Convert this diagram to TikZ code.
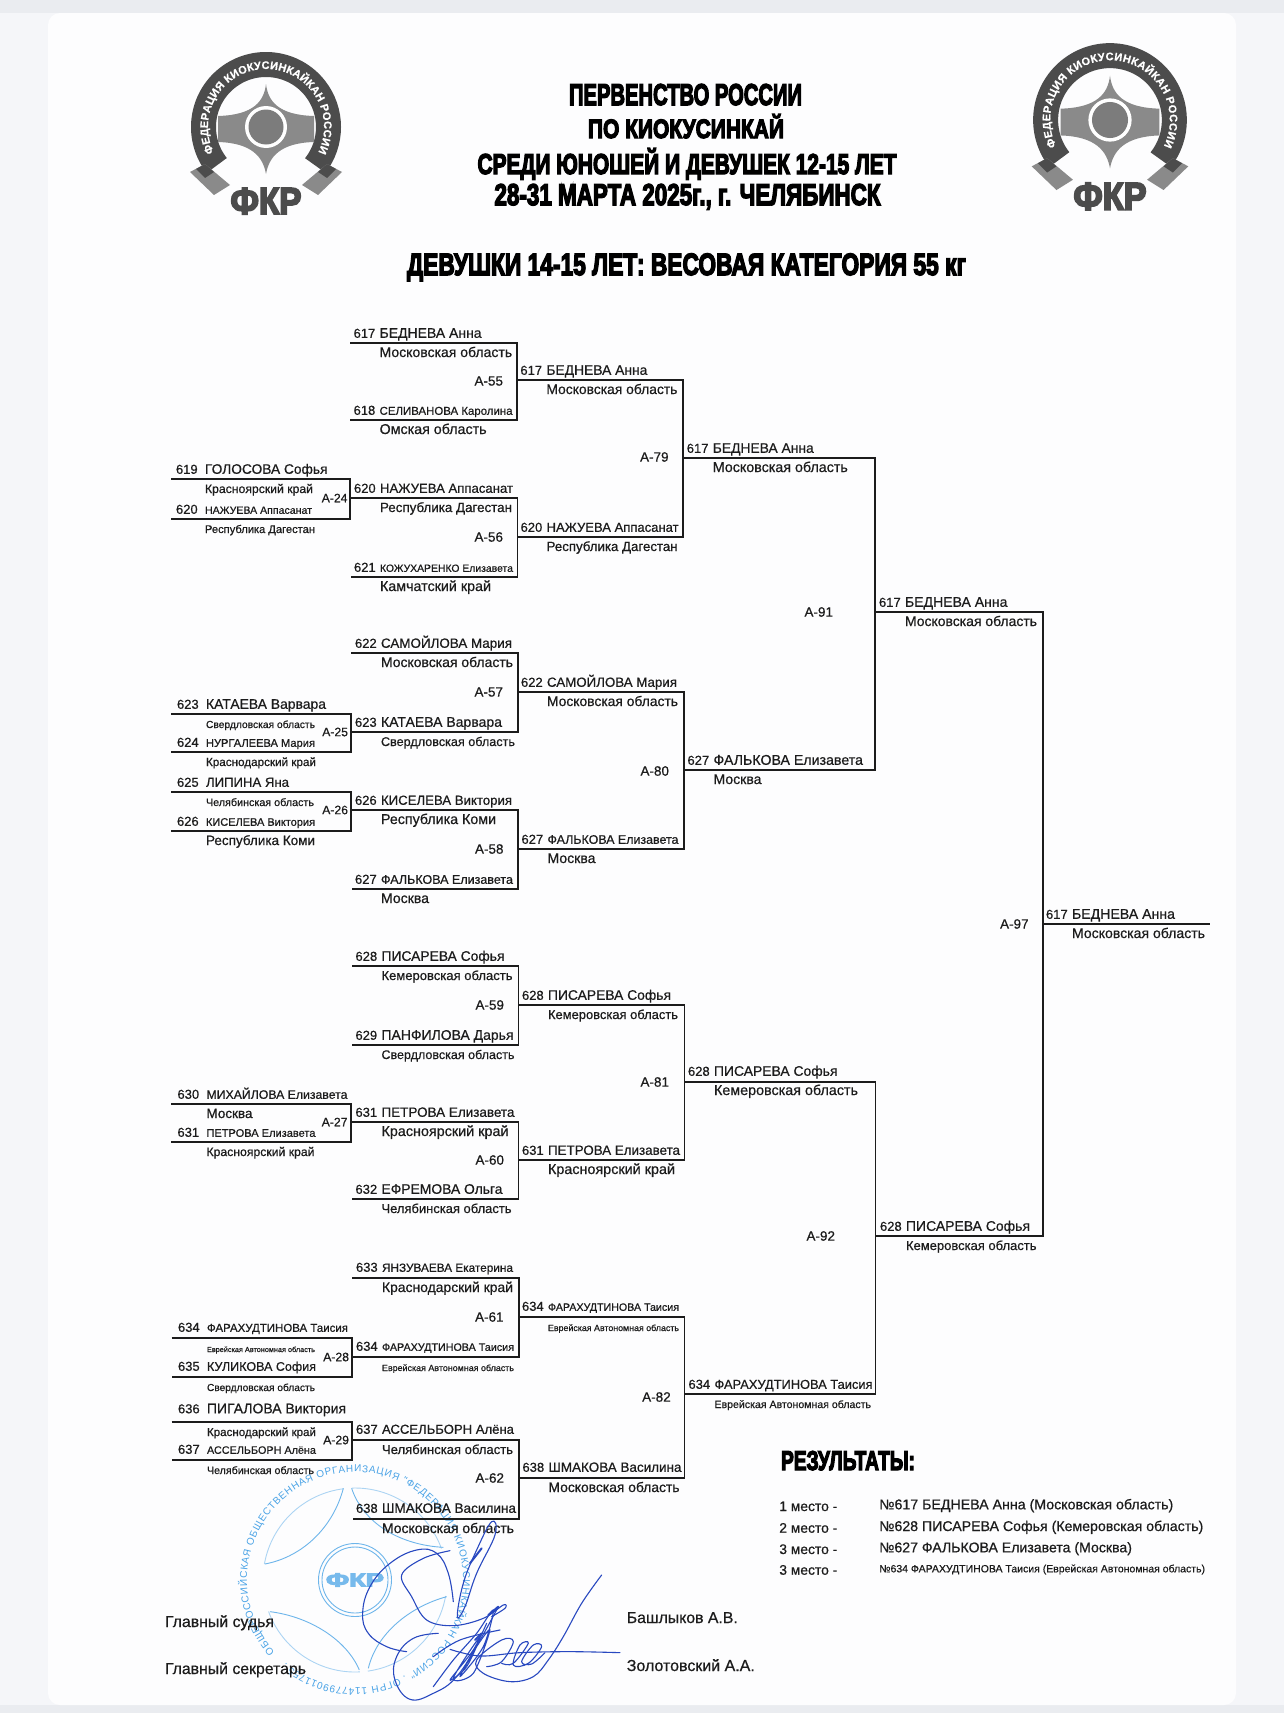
\documentclass[tikz,border=0pt]{standalone}
\usepackage{fontspec}
\usepackage{graphicx}
\setmainfont[FakeBold=0.6]{Liberation Sans}
\newfontfamily\heavyfont[FakeBold=5]{Liberation Sans}
\newfontfamily\thinfont{Liberation Sans}
\usetikzlibrary{decorations.text}
\definecolor{ink}{HTML}{1C1C1C}
\definecolor{pagebg}{HTML}{F5F6F9}
\definecolor{stripbg}{HTML}{EAECF0}
\definecolor{sheet}{HTML}{FDFDFE}
\definecolor{stampblue}{HTML}{4AA3E6}
\definecolor{signblue}{HTML}{2848C0}
\definecolor{logodark}{HTML}{4C4C4C}
\definecolor{logomid}{HTML}{8A8A8A}
\tikzset{
  bline/.style={draw=ink, line width=1.6pt, line join=miter},
  numlab/.style={anchor=base west, inner sep=0pt, outer sep=0pt, text=ink, font=\fontsize{13}{15}\selectfont},
  txtlab/.style={anchor=base west, inner sep=0pt, outer sep=0pt, text=ink, font=\fontsize{14}{16}\selectfont},
  mlabel/.style={anchor=east, inner sep=0pt, outer sep=0pt, text=ink, font=\fontsize{13.5}{15}\selectfont},
  mlabelsm/.style={mlabel, font=\fontsize{12.2}{15}\selectfont},
  headlab/.style={anchor=base, inner sep=0pt, outer sep=0pt, text=black, font=\heavyfont\bfseries\fontsize{20}{24}\selectfont},
  stampline/.style={draw=stampblue, line width=0.9pt, opacity=0.8},
  signline/.style={draw=signblue, line width=1.1pt, line cap=round, line join=round},
  fkrlogo/.pic={
    \draw[logodark, line width=25pt] (218:62.5pt) arc[start angle=218, delta angle=-256, radius=62.5pt];
    \fill[logomid] (-76,45) -- (-61,37) -- (-36,58) -- (-52,68) -- cycle;
    \fill[logomid] (76,45) -- (61,37) -- (36,58) -- (52,68) -- cycle;
    \fill[logodark] (-70,42) -- (-61,37) -- (-52,45) -- (-61,51) -- cycle;
    \fill[logodark] (70,42) -- (61,37) -- (52,45) -- (61,51) -- cycle;
    \fill[logomid] (0,-43) .. controls (2,-26) and (12,-12) .. (48,-11)
      -- (48,15) .. controls (14,16) and (3,30) .. (0,47)
      .. controls (-3,30) and (-14,16) .. (-48,15)
      -- (-48,-11) .. controls (-12,-12) and (-2,-26) .. (0,-43) -- cycle;
    \fill[white] (0,0) circle[radius=21pt];
    \fill[logomid!90!black] (0,0) circle[radius=17.5pt];
    \path[decorate, decoration={text along path, text color=white, text align=fit to path,
      text={|\bfseries\fontsize{11}{12}\selectfont|ФЕДЕРАЦИЯ КИОКУСИНКАЙКАН РОССИИ}}]
      (206:58pt) arc[start angle=206, delta angle=-232, radius=58pt];
    \node[anchor=base, inner sep=0pt, text=logodark, font=\heavyfont\bfseries\fontsize{20}{24}\selectfont, transform shape] (-fkr) at (0,87) {\resizebox{71pt}{26pt}{ФКР}};
  }
}
\newcommand{\entrant}[8]{%
  \node[numlab] (n#1) at (#2-\numgap,#3-\nameup) {#4};
  \node[txtlab] (t#1) at (#2,#3-\nameup) {\resizebox{#5pt}{!}{#6}};
  \node[txtlab] (r#1) at (#2,#3+14) {\resizebox{#7pt}{!}{#8}};}
\begin{document}
\begin{tikzpicture}[x=1pt, y=-1pt]
\useasboundingbox (0,0) rectangle (1284,1713);
\fill[pagebg] (0,0) rectangle (1284,1713);
\fill[stripbg] (0,0) rectangle (1284,13);
\fill[stripbg] (0,1705) rectangle (1284,1713);
\fill[sheet, rounded corners=12pt] (48,13) rectangle (1236,1705);

% logos and headings
\pic (logoL) at (266,127) {fkrlogo};
\pic[scale=1.03] (logoR) at (1110,120) {fkrlogo};
\node[headlab] (head1) at (685.5,105) {\resizebox{233pt}{21pt}{ПЕРВЕНСТВО РОССИИ}};
\node[headlab] (head2) at (686,138) {\resizebox{196pt}{24pt}{ПО КИОКУСИНКАЙ}};
\node[headlab] (head3) at (687,174) {\resizebox{419pt}{26pt}{СРЕДИ ЮНОШЕЙ И ДЕВУШЕК 12-15 ЛЕТ}};
\node[headlab] (head4) at (687.5,205) {\resizebox{386pt}{21pt}{28-31 МАРТА 2025г., г. ЧЕЛЯБИНСК}};
\node[headlab] (head5) at (686.5,275) {\resizebox{559pt}{21.5pt}{ДЕВУШКИ 14-15 ЛЕТ: ВЕСОВАЯ КАТЕГОРИЯ 55 кг}};

% stamp
\coordinate (sc) at (355,1580);
\draw[stampline] (sc) circle[radius=36.5pt];
\draw[stampline] (sc) circle[radius=33pt];
\node[inner sep=0pt, text=stampblue!75, font=\heavyfont\bfseries\fontsize{13}{15}\selectfont] (stampfkr) at (sc) {\resizebox{58pt}{13pt}{ФКР}};
\begin{scope}[shift={(220,1460)}, x=0.3333pt, y=-0.3333pt]
\draw[stampline] (370,85) .. controls (340,200) and (250,290) .. (135,312);
\draw[stampline] (395,85) .. controls (430,190) and (540,255) .. (670,262);
\draw[stampline] (150,455) .. controls (270,470) and (380,540) .. (418,630);
\draw[stampline] (445,625) .. controls (470,520) and (570,440) .. (680,410);
\end{scope}
\draw[stampline, draw opacity=0.45] ([shift={(170:92pt)}]sc) arc[start angle=170, end angle=97, radius=92pt];
\draw[stampline, draw opacity=0.45] ([shift={(92:92pt)}]sc) arc[start angle=92, end angle=20, radius=92pt];
\draw[stampline, draw opacity=0.45] ([shift={(-10:92pt)}]sc) arc[start angle=-10, end angle=-82, radius=92pt];
\draw[stampline, draw opacity=0.45] ([shift={(-87:92pt)}]sc) arc[start angle=-87, end angle=-160, radius=92pt];
\path[decorate, opacity=0.85, decoration={text along path, text color=stampblue, text align=fit to path,
  text={|\thinfont\fontsize{10}{10}\selectfont|ОБЩЕРОССИЙСКАЯ ОБЩЕСТВЕННАЯ ОРГАНИЗАЦИЯ "ФЕДЕРАЦИЯ КИОКУСИНКАЙКАН РОССИИ" . ОГРН 1147799011755 .}}]
  ([shift={(222:108pt)}]sc) arc[start angle=222, delta angle=-352, radius=108pt];

% first round
\coordinate (e619) at (171,479);
\coordinate (e620) at (171,519);
\coordinate (m24) at (350,498);
\coordinate (e623) at (171,714);
\coordinate (e624) at (171,752);
\coordinate (m25) at (351,732);
\coordinate (e625) at (171,792);
\coordinate (e626) at (171,831);
\coordinate (m26) at (351,810);
\coordinate (e630) at (171,1104);
\coordinate (e631) at (171,1142);
\coordinate (m27) at (351,1122);
\coordinate (e634) at (171.5,1338);
\coordinate (e635) at (171.5,1377);
\coordinate (m28) at (352,1357);
\coordinate (e636) at (171.5,1422);
\coordinate (e637) at (171.5,1460);
\coordinate (m29) at (352,1440);
\draw[bline] (e619) -| (m24) |- (e620);
\draw[bline] (e623) -| (m25) |- (e624);
\draw[bline] (e625) -| (m26) |- (e626);
\draw[bline] (e630) -| (m27) |- (e631);
\draw[bline] (e634) -| (m28) |- (e635);
\draw[bline] (e636) -| (m29) |- (e637);

% second round
\coordinate (e617) at (350,343);
\coordinate (e618) at (350,420);
\coordinate (m55) at (517,380);
\coordinate (e621) at (351,577);
\coordinate (m56) at (517.5,537);
\coordinate (e622) at (351,653);
\coordinate (m57) at (518,692);
\coordinate (e627) at (352,889);
\coordinate (m58) at (518,849);
\coordinate (e628) at (352,966);
\coordinate (e629) at (352,1045);
\coordinate (m59) at (518.5,1005);
\coordinate (e632) at (352,1199);
\coordinate (m60) at (518.5,1160);
\coordinate (e633) at (352,1278);
\coordinate (m61) at (519,1317);
\coordinate (e638) at (353,1519);
\coordinate (m62) at (519,1478);
\draw[bline] (e617) -| (m55) |- (e618);
\draw[bline] (m24) -| (m56) |- (e621);
\draw[bline] (e622) -| (m57) |- (m25);
\draw[bline] (m26) -| (m58) |- (e627);
\draw[bline] (e628) -| (m59) |- (e629);
\draw[bline] (m27) -| (m60) |- (e632);
\draw[bline] (e633) -| (m61) |- (m28);
\draw[bline] (m29) -| (m62) |- (e638);

% later rounds
\coordinate (m79) at (683,458);
\coordinate (m80) at (684,770);
\coordinate (m81) at (684.5,1082);
\coordinate (m82) at (684.5,1394);
\coordinate (m91) at (875,612);
\coordinate (m92) at (875.5,1236);
\coordinate (m97) at (1043,924);
\coordinate (efinal) at (1210,924);
\draw[bline] (m55) -| (m79) |- (m56);
\draw[bline] (m57) -| (m80) |- (m58);
\draw[bline] (m59) -| (m81) |- (m60);
\draw[bline] (m61) -| (m82) |- (m62);
\draw[bline] (m79) -| (m91) |- (m80);
\draw[bline] (m81) -| (m92) |- (m82);
\draw[bline] (m91) -| (m97) |- (m92);
\draw[bline] (m97) -- (efinal);

% match labels
\node[mlabelsm] (l24) at (347.5,498) {А-24};
\node[mlabelsm] (l25) at (348,732) {А-25};
\node[mlabelsm] (l26) at (348,810) {А-26};
\node[mlabelsm] (l27) at (347.5,1122) {А-27};
\node[mlabelsm] (l28) at (349,1357) {А-28};
\node[mlabelsm] (l29) at (349,1440) {А-29};
\node[mlabel] (l55) at (503,381) {А-55};
\node[mlabel] (l56) at (503,537) {А-56};
\node[mlabel] (l57) at (503,692) {А-57};
\node[mlabel] (l58) at (503.5,849) {А-58};
\node[mlabel] (l59) at (504,1005) {А-59};
\node[mlabel] (l60) at (504,1160) {А-60};
\node[mlabel] (l61) at (503.6,1317) {А-61};
\node[mlabel] (l62) at (504,1478) {А-62};
\node[mlabel] (l79) at (668.6,457) {А-79};
\node[mlabel] (l80) at (669,771) {А-80};
\node[mlabel] (l81) at (669,1082) {А-81};
\node[mlabel] (l82) at (670.7,1397) {А-82};
\node[mlabel] (l91) at (833,612) {А-91};
\node[mlabel] (l92) at (835,1236) {А-92};
\node[mlabel] (l97) at (1028.6,924) {А-97};

% entrants, first round
\def\numgap{29}
\def\nameup{5.2}
\entrant{619}{205}{479}{619}{122.5}{ГОЛОСОВА Софья}{108}{Красноярский край}
\entrant{620}{205}{519}{620}{107}{НАЖУЕВА Аппасанат}{110}{Республика Дагестан}
\entrant{623}{206}{714}{623}{120}{КАТАЕВА Варвара}{109}{Свердловская область}
\entrant{624}{206}{752}{624}{109}{НУРГАЛЕЕВА Мария}{110}{Краснодарский край}
\entrant{625}{206}{792}{625}{83}{ЛИПИНА Яна}{108}{Челябинская область}
\entrant{626}{206}{831}{626}{109}{КИСЕЛЕВА Виктория}{109}{Республика Коми}
\entrant{630}{206.5}{1104}{630}{141}{МИХАЙЛОВА Елизавета}{46}{Москва}
\entrant{631}{206.5}{1142}{631}{109}{ПЕТРОВА Елизавета}{108}{Красноярский край}
\def\nameup{6.2}
\entrant{634}{207}{1338}{634}{141}{ФАРАХУДТИНОВА Таисия}{108}{Еврейская Автономная область}
\entrant{635}{207}{1377}{635}{109}{КУЛИКОВА София}{108}{Свердловская область}
\def\nameup{8.7}
\entrant{636}{207}{1422}{636}{139}{ПИГАЛОВА Виктория}{109}{Краснодарский край}
\def\nameup{6.2}
\entrant{637}{207}{1460}{637}{109}{АССЕЛЬБОРН Алёна}{107}{Челябинская область}

% entrants, second round
\def\numgap{26}
\def\nameup{5.2}
\entrant{617a}{379.6}{343}{617}{102}{БЕДНЕВА Анна}{132.5}{Московская область}
\entrant{618a}{379.6}{420}{618}{133}{СЕЛИВАНОВА Каролина}{107}{Омская область}
\entrant{620b}{380}{498}{620}{133}{НАЖУЕВА Аппасанат}{132}{Республика Дагестан}
\entrant{621a}{380}{577}{621}{133}{КОЖУХАРЕНКО Елизавета}{111}{Камчатский край}
\entrant{622a}{381}{653}{622}{131}{САМОЙЛОВА Мария}{132}{Московская область}
\entrant{623b}{381}{732}{623}{121}{КАТАЕВА Варвара}{134}{Свердловская область}
\entrant{626b}{381}{810}{626}{131}{КИСЕЛЕВА Виктория}{115}{Республика Коми}
\entrant{627a}{381}{889}{627}{132}{ФАЛЬКОВА Елизавета}{48}{Москва}
\entrant{628a}{381.5}{966}{628}{123}{ПИСАРЕВА Софья}{131}{Кемеровская область}
\entrant{629a}{381.5}{1045}{629}{132}{ПАНФИЛОВА Дарья}{133}{Свердловская область}
\entrant{631b}{381.5}{1122}{631}{133}{ПЕТРОВА Елизавета}{127}{Красноярский край}
\entrant{632a}{381.5}{1199}{632}{121}{ЕФРЕМОВА Ольга}{130}{Челябинская область}
\def\nameup{6.2}
\entrant{633a}{382}{1278}{633}{131}{ЯНЗУВАЕВА Екатерина}{131}{Краснодарский край}
\entrant{634b}{382}{1357}{634}{132}{ФАРАХУДТИНОВА Таисия}{132}{Еврейская Автономная область}
\entrant{637b}{382}{1440}{637}{132}{АССЕЛЬБОРН Алёна}{131}{Челябинская область}
\entrant{638b}{382}{1519}{638}{134}{ШМАКОВА Василина}{132}{Московская область}

% entrants, later rounds
\def\nameup{5.2}
\entrant{617c}{546.4}{380}{617}{101}{БЕДНЕВА Анна}{131}{Московская область}
\entrant{620c}{546.6}{537}{620}{132}{НАЖУЕВА Аппасанат}{131}{Республика Дагестан}
\entrant{622c}{547}{692}{622}{130}{САМОЙЛОВА Мария}{131}{Московская область}
\entrant{627c}{547.5}{849}{627}{131}{ФАЛЬКОВА Елизавета}{48}{Москва}
\entrant{628c}{548}{1005}{628}{123}{ПИСАРЕВА Софья}{130}{Кемеровская область}
\entrant{631c}{548}{1160}{631}{132}{ПЕТРОВА Елизавета}{127}{Красноярский край}
\def\nameup{6.2}
\entrant{634c}{548}{1317}{634}{131}{ФАРАХУДТИНОВА Таисия}{131}{Еврейская Автономная область}
\entrant{638c}{548.5}{1478}{638}{133}{ШМАКОВА Василина}{131}{Московская область}
\def\nameup{5.2}
\entrant{617d}{712.8}{458}{617}{101}{БЕДНЕВА Анна}{135}{Московская область}
\entrant{627d}{713.5}{770}{627}{149.5}{ФАЛЬКОВА Елизавета}{48}{Москва}
\entrant{628d}{714}{1081}{628}{123.5}{ПИСАРЕВА Софья}{144}{Кемеровская область}
\entrant{634d}{714.5}{1394}{634}{158}{ФАРАХУДТИНОВА Таисия}{156.5}{Еврейская Автономная область}
\entrant{617e}{905}{612}{617}{102.5}{БЕДНЕВА Анна}{132}{Московская область}
\entrant{628e}{906}{1236}{628}{124}{ПИСАРЕВА Софья}{130.5}{Кемеровская область}
\entrant{617f}{1072}{924}{617}{103}{БЕДНЕВА Анна}{133}{Московская область}

% results
\node[headlab, anchor=base west] (restitle) at (781,1470) {\resizebox{134pt}{19pt}{РЕЗУЛЬТАТЫ:}};
\node[txtlab] (pl1) at (779.3,1511) {\resizebox{58pt}{!}{1 место -}};
\node[txtlab] (pl2) at (779.3,1532.7) {\resizebox{58pt}{!}{2 место -}};
\node[txtlab] (pl3) at (779.3,1554) {\resizebox{58pt}{!}{3 место -}};
\node[txtlab] (pl4) at (779.3,1574.7) {\resizebox{58pt}{!}{3 место -}};
\node[txtlab] (res1) at (879.3,1509.3) {\resizebox{294pt}{!}{№617 БЕДНЕВА Анна (Московская область)}};
\node[txtlab] (res2) at (879.3,1531) {\resizebox{324pt}{!}{№628 ПИСАРЕВА Софья (Кемеровская область)}};
\node[txtlab] (res3) at (879.3,1552.3) {\resizebox{252.7pt}{!}{№627 ФАЛЬКОВА Елизавета (Москва)}};
\node[txtlab] (res4) at (879.3,1572.3) {\resizebox{325.7pt}{!}{№634 ФАРАХУДТИНОВА Таисия (Еврейская Автономная область)}};

% signatures
\node[txtlab] (judge) at (165,1627) {\resizebox{109pt}{!}{Главный судья}};
\node[txtlab] (secr) at (165,1674) {\resizebox{141pt}{!}{Главный секретарь}};
\node[txtlab] (judgen) at (626.8,1623) {\resizebox{111pt}{!}{Башлыков А.В.}};
\node[txtlab] (secrn) at (626.8,1671) {\resizebox{128pt}{!}{Золотовский А.А.}};
\begin{scope}[shift={(220,1460)}, x=0.3333pt, y=-0.3333pt]
\draw[signline] plot[smooth, tension=0.7] coordinates {(700,425) (685,340) (650,280) (590,270) (510,310) (450,380) (428,460) (445,520) (500,560) (560,575)};
\draw[signline] plot[smooth, tension=0.6] coordinates {(690,272) (610,295) (545,345) (575,410) (620,480) (700,497) (790,475) (850,435) (855,445) (815,470)};
\draw[signline] plot[smooth cycle, tension=0.7] coordinates {(712,470) (730,370) (770,270) (815,185) (825,225) (770,340) (735,440)};
\draw[signline] plot[smooth, tension=0.7] coordinates {(655,520) (580,535) (530,590) (525,660) (570,718) (640,700) (710,650) (780,540) (835,440)};
\draw[signline] plot[smooth, tension=0.6] coordinates {(690,568) (780,588) (900,578) (1050,575) (1200,578)};
\draw[signline] plot[smooth, tension=0.6] coordinates {(1145,345) (1085,430) (1030,530) (985,600) (940,650) (870,665) (790,640) (770,600) (845,540) (880,545) (845,605) (800,620)};
\draw[signline] plot[smooth, tension=0.6] coordinates {(975,578) (935,612) (905,605) (940,555) (965,560) (925,610) (880,615) (900,555) (925,550) (880,610) (845,610)};
\draw[signline] plot[smooth, tension=0.5] coordinates {(640,680) (700,600) (770,520) (820,450) (790,560) (720,650) (770,560) (810,510) (760,640) (700,655) (780,530) (740,620) (690,660) (760,570) (800,490)};
\draw[signline] plot[smooth, tension=0.6] coordinates {(640,590) (720,540) (840,510)};
\draw[signline, line width=2pt] (750,310) -- (785,265);
\draw[signline, line width=2pt] (805,465) -- (835,440);
\draw[signline, line width=2pt] (765,540) -- (785,520);
\end{scope}
\end{tikzpicture}
\end{document}
